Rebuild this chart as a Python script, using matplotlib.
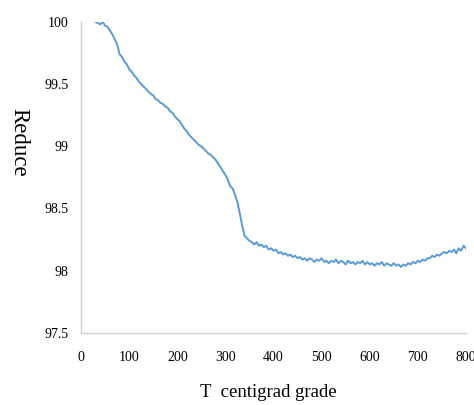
import matplotlib
matplotlib.use("Agg")
import matplotlib.pyplot as plt
import numpy as np

# Thermogravimetric curve: remaining mass (%) against temperature (°C)
temperature = np.arange(30, 805, 5)
reduce_pct = [
    100.00, 99.99, 99.98, 100.00, 99.97, 99.96, 99.93, 99.90, 99.86, 99.82,
    99.74, 99.72, 99.68, 99.66, 99.62, 99.60, 99.57, 99.55, 99.52, 99.50,
    99.48, 99.46, 99.44, 99.42, 99.41, 99.38, 99.37, 99.35, 99.34, 99.32,
    99.31, 99.28, 99.27, 99.24, 99.22, 99.20, 99.17, 99.14, 99.12, 99.09,
    99.07, 99.05, 99.03, 99.01, 99.00, 98.98, 98.96, 98.94, 98.93, 98.91,
    98.89, 98.86, 98.83, 98.80, 98.77, 98.73, 98.68, 98.66, 98.61, 98.55,
    98.46, 98.36, 98.28, 98.26, 98.24, 98.23, 98.21, 98.23, 98.20, 98.21,
    98.19, 98.20, 98.17, 98.18, 98.16, 98.17, 98.14, 98.15, 98.13, 98.14,
    98.12, 98.13, 98.11, 98.12, 98.10, 98.11, 98.09, 98.10, 98.08, 98.10,
    98.09, 98.07, 98.09, 98.08, 98.10, 98.07, 98.08, 98.06, 98.08, 98.07,
    98.09, 98.06, 98.08, 98.07, 98.05, 98.08, 98.06, 98.07, 98.05, 98.07,
    98.06, 98.08, 98.05, 98.07, 98.05, 98.06, 98.04, 98.06, 98.05, 98.07,
    98.04, 98.06, 98.05, 98.04, 98.06, 98.04, 98.05, 98.03, 98.05, 98.04,
    98.06, 98.05, 98.07, 98.06, 98.08, 98.07, 98.09, 98.08, 98.10, 98.10,
    98.12, 98.11, 98.13, 98.12, 98.14, 98.15, 98.14, 98.16, 98.15, 98.17,
    98.14, 98.18, 98.16, 98.20, 98.18, 98.21,
]
x_ticks = [0, 100, 200, 300, 400, 500, 600, 700, 800]
y_ticks = [97.5, 98, 98.5, 99, 99.5, 100]
y_tick_labels = ["97.5", "98", "98.5", "99", "99.5", "100"]

plt.rcParams["font.family"] = ["Liberation Serif", "DejaVu Serif"]

fig = plt.figure(figsize=(4.74, 4.05), dpi=100)
ax = fig.add_axes([0.171, 0.178, 0.812, 0.768])

ax.plot(temperature, reduce_pct[:len(temperature)], color="#5b9bd5", linewidth=1.4)

ax.set_xlim(0, 800)
ax.set_ylim(97.5, 100)
ax.set_xticks(x_ticks)
ax.set_yticks(y_ticks)
ax.set_yticklabels(y_tick_labels)
ax.tick_params(axis="both", length=0, labelsize=10)
ax.tick_params(axis="y", pad=9)
ax.tick_params(axis="x", pad=13)

for side in ("top", "right"):
    ax.spines[side].set_visible(False)
for side in ("left", "bottom"):
    ax.spines[side].set_color("#d0d0d0")
    ax.spines[side].set_linewidth(1.0)

ax.set_xlabel("T  centigrad grade", fontsize=13.5, va="center")
ax.xaxis.set_label_coords(0.486, -0.19)
ax.set_ylabel("Reduce", fontsize=16.5, rotation=270, va="center")
ax.yaxis.set_label_coords(-0.161, 0.614)

fig.savefig("out.png", dpi=100)
